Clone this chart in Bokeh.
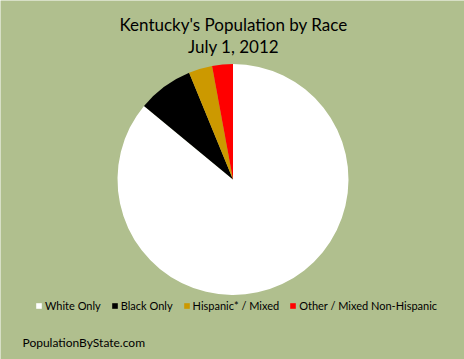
import numpy as np
from bokeh.plotting import figure
from bokeh.models import Range1d, ColumnDataSource, Legend, LegendItem, Label
from bokeh.embed import file_html
from bokeh.resources import INLINE

categories = ["White Only", "Black Only", "Hispanic* / Mixed", "Other / Mixed Non-Hispanic"]
shares = [86.0, 7.8, 3.3, 2.9]
colors = ["#FFFFFF", "#000000", "#CC9900", "#FF0000"]
title_lines = ["Kentucky's Population by Race", "July 1, 2012"]
footer = "PopulationByState.com"

BG = "#B0BF8E"
W, H = 464, 359

vals = np.array(shares, dtype=float)
frac = vals / vals.sum()
cum = np.concatenate([[0.0], np.cumsum(frac)])
start = np.pi / 2 - cum[:-1] * 2 * np.pi
end = np.pi / 2 - cum[1:] * 2 * np.pi

src = ColumnDataSource(dict(cat=categories, start=start, end=end, color=colors))

p = figure(width=W, height=H, output_backend="svg", toolbar_location=None,
           x_range=Range1d(0, W), y_range=Range1d(0, H),
           min_border=0, outline_line_color=None,
           background_fill_color=BG, border_fill_color=BG)
p.axis.visible = False
p.grid.visible = False

cx, cy, r = 232.5, H - 179, 115.5
rend = p.wedge(x=cx, y=cy, radius=r, start_angle="start", end_angle="end",
               direction="clock", fill_color="color", line_color=None, source=src)

items = [LegendItem(label=c, renderers=[rend], index=i) for i, c in enumerate(categories)]
legend = Legend(items=items, orientation="horizontal", location=(35, 47),
                background_fill_alpha=0, border_line_color=None,
                label_text_font="Lato", label_text_font_size="11px",
                label_text_color="#000000",
                glyph_width=7, glyph_height=7, spacing=10, padding=0, margin=0,
                label_standoff=3, label_height=12)
p.add_layout(legend, "center")

for i, t in enumerate(title_lines):
    p.add_layout(Label(x=W / 2 + 1, y=H - 24 - 22 * i, text=t, text_align="center",
                       text_baseline="middle", text_font="Lato",
                       text_font_size="17px", text_color="#000000"))

p.add_layout(Label(x=22, y=H - 342, text=footer, text_align="left",
                   text_baseline="middle", text_font="Lato",
                   text_font_size="12px", text_color="#000000"))

open("out.html", "w").write(file_html(p, INLINE))
